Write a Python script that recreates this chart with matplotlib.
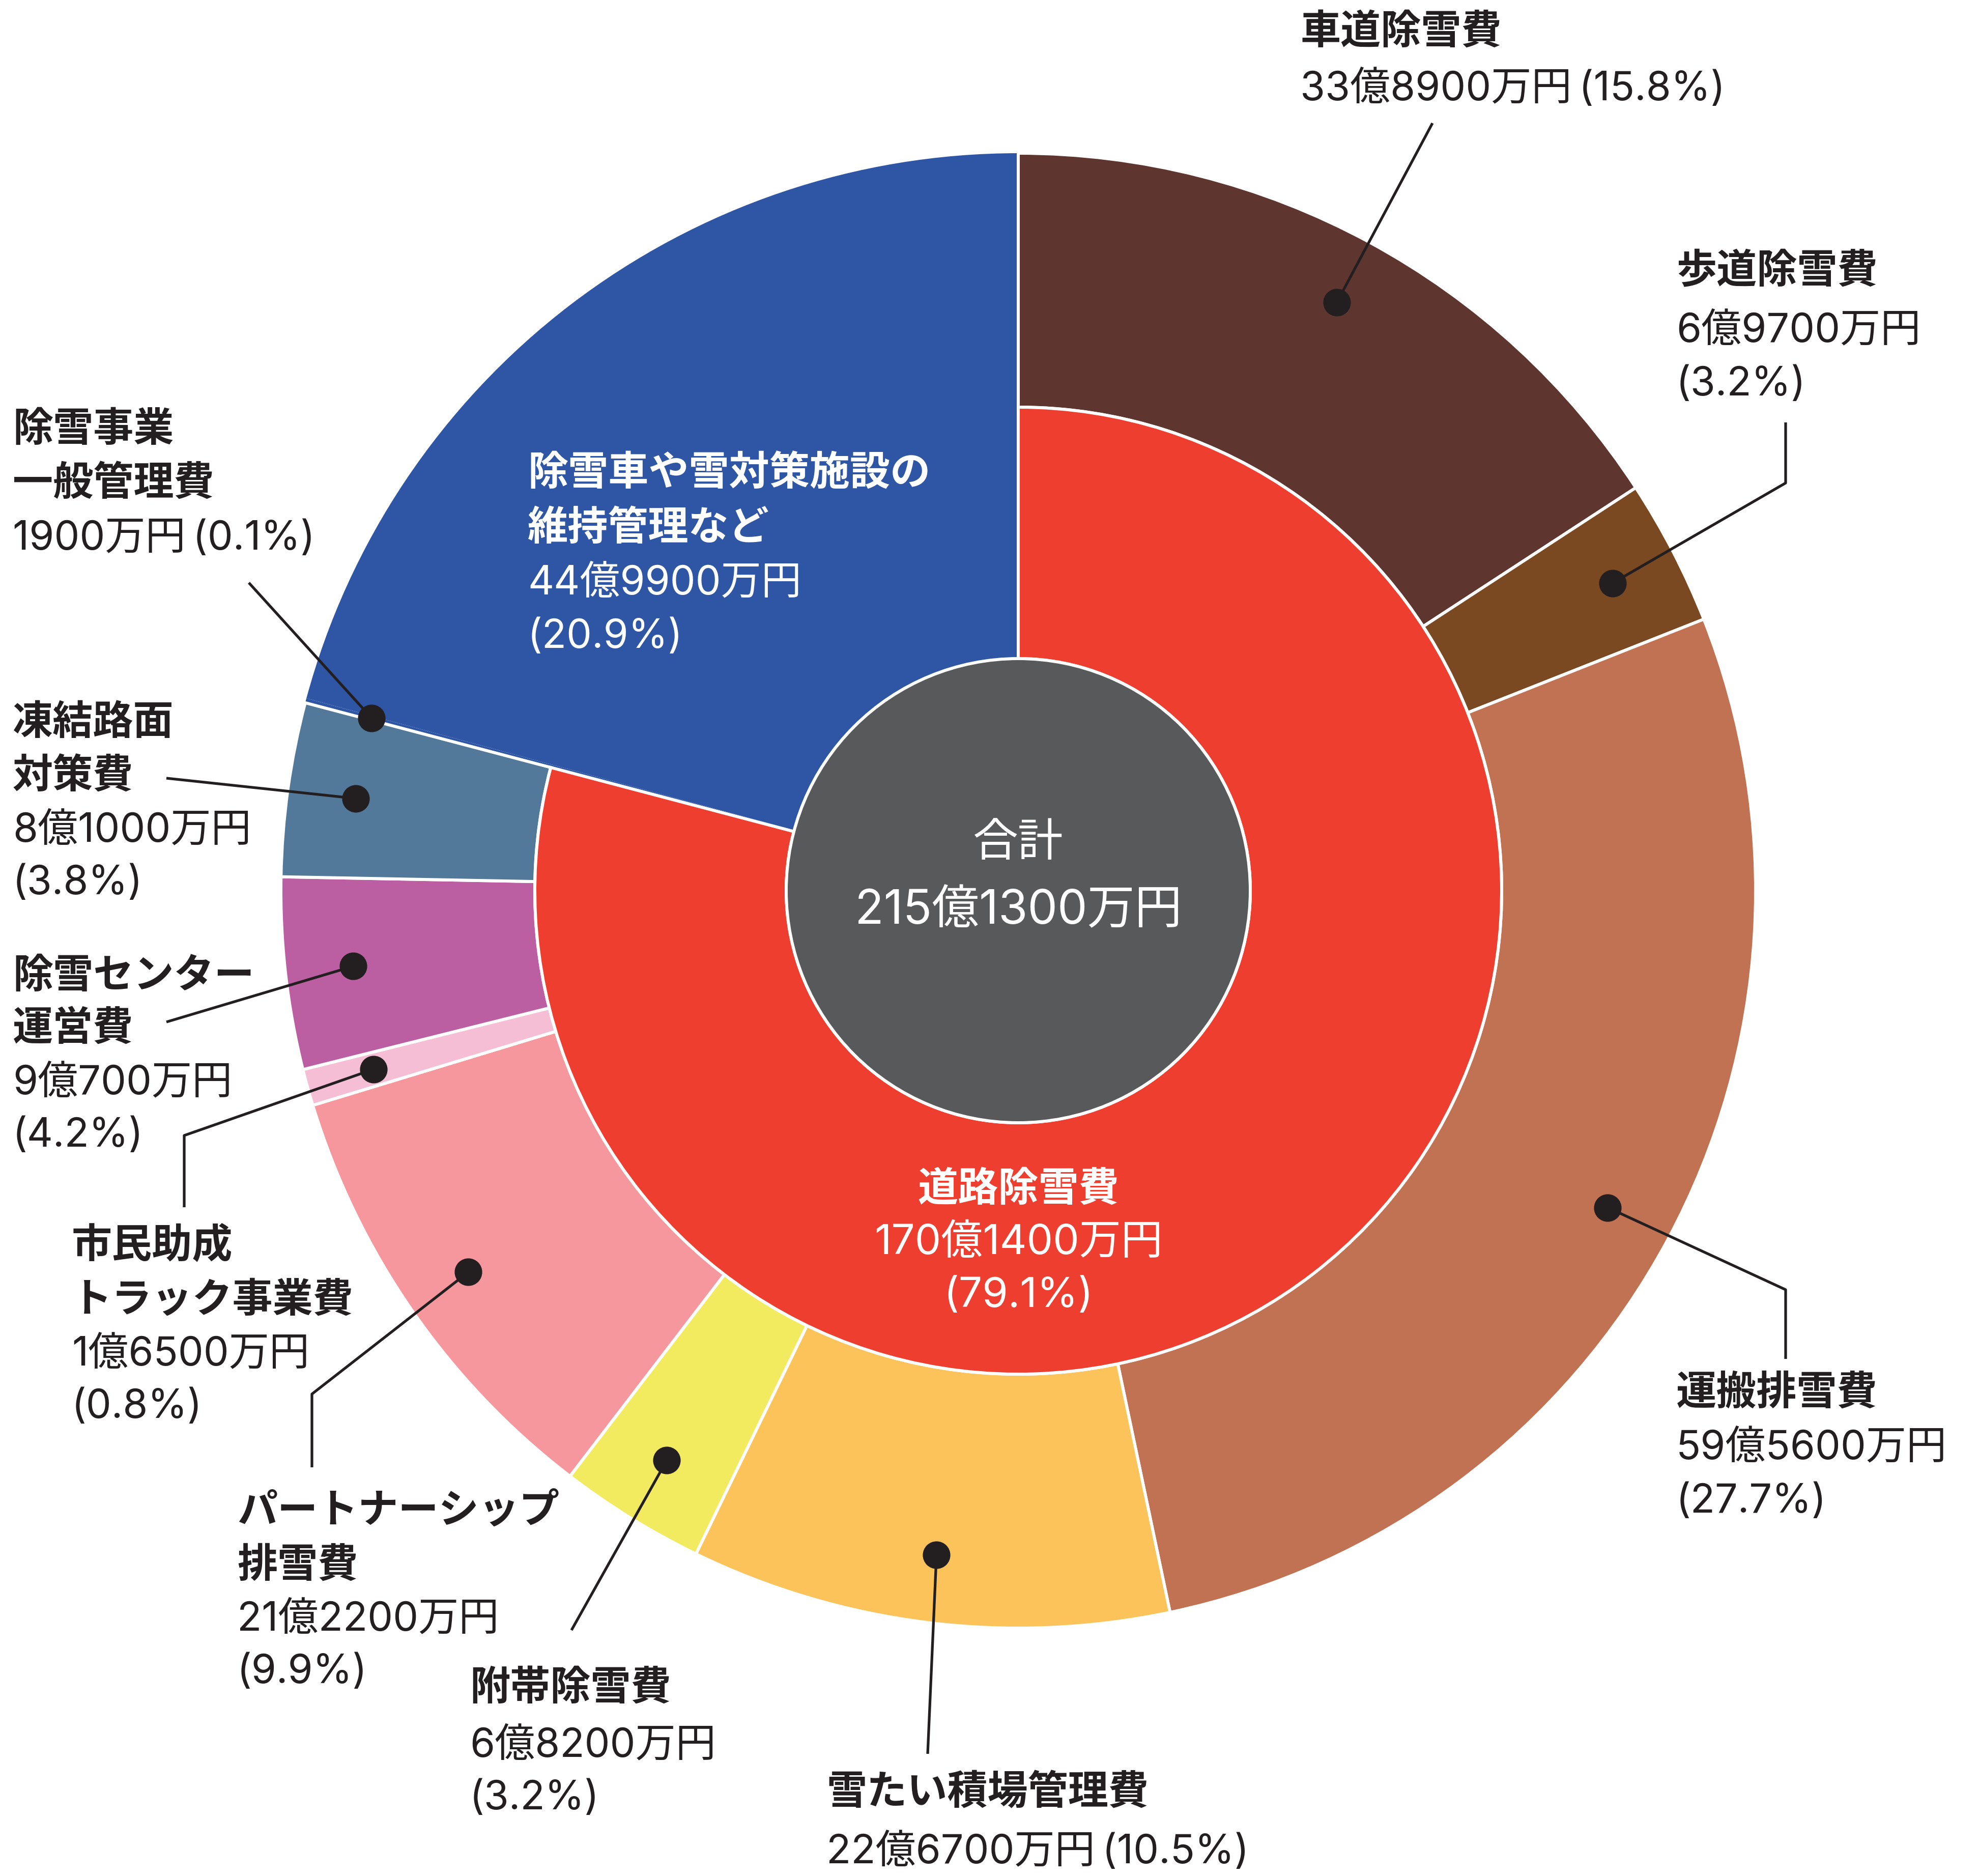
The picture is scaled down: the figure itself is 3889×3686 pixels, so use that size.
import matplotlib
matplotlib.use("Agg")
import matplotlib.pyplot as plt
from matplotlib.patches import Circle
import numpy as np

plt.rcParams['font.family'] = ['Noto Sans CJK JP', 'DejaVu Sans']
NUM_FONT = ['Inter', 'Noto Sans CJK JP', 'DejaVu Sans']

# data
outer_names = ['車道除雪費', '歩道除雪費', '運搬排雪費', '雪たい積場管理費', '附帯除雪費',
               'パートナーシップ\n排雪費', '市民助成\nトラック事業費', '除雪センター\n運営費',
               '凍結路面\n対策費', '除雪事業\n一般管理費']
outer_amounts = ['33億8900万円', '6億9700万円', '59億5600万円', '22億6700万円', '6億8200万円',
                 '21億2200万円', '1億6500万円', '9億700万円', '8億1000万円', '1900万円']
outer_pct = [15.8, 3.2, 27.7, 10.5, 3.2, 9.9, 0.8, 4.2, 3.8, 0.1]
outer_colors = ['#5E362F', '#7A4821', '#C07252', '#FCC35B', '#F2EB5F',
                '#F5979C', '#F5BED5', '#BB5FA2', '#52789A', '#2E56A4']

inner_names = ['道路除雪費', '除雪車や雪対策施設の\n維持管理など']
inner_amounts = ['170億1400万円', '44億9900万円']
inner_pct = [79.1, 20.9]
inner_colors = ['#EE3E30', '#2E56A4']

total_label = '合計'
total_amount = '215億1300万円'

W, H = 3889, 3687
CX, CY = 2001, H - 1751
R_OUT, R_MID, R_IN, R_DOT = 1449, 950, 456, 1315
EDGE = 4.3
TXT = '#231F20'
FS = 57

fig = plt.figure(figsize=(W / 100, H / 100), dpi=100)
ax = fig.add_axes([0, 0, 1, 1])

# outer ring, with the rest of the blue parent share
blue_rest = round(inner_pct[1] - outer_pct[-1], 1)
wedges, _ = ax.pie(outer_pct + [blue_rest], colors=outer_colors + [inner_colors[1]],
                   radius=R_OUT, center=(CX, CY), startangle=90, counterclock=False,
                   wedgeprops=dict(width=R_OUT - R_MID, edgecolor='white', linewidth=EDGE))
for w in wedges[-2:]:
    # blue share spans both rings
    w.set_width(R_OUT - R_IN)
    w.set_edgecolor('none')
    w.set_zorder(0.5)

iw, _ = ax.pie(inner_pct, colors=inner_colors, radius=R_MID, center=(CX, CY),
               startangle=90, counterclock=False,
               wedgeprops=dict(width=R_MID - R_IN, edgecolor='white', linewidth=EDGE))
iw[1].set_visible(False)

ax.add_patch(Circle((CX, CY), R_IN, facecolor='#58595B', edgecolor='white',
                    linewidth=EDGE, zorder=3))

# label layout (image pixel coords): x, y of each line, leader path after the dot
layout = [
    (2555, [62, 174], [(2815, 243)]),
    (3294, [533, 650, 756], [(3509, 950), (3509, 831)]),
    (3294, [2736, 2845, 2951], [(3509, 2535), (3509, 2671)]),
    (1624, [3522, 3638], [(1823, 3447)]),
    (923, [3316, 3430, 3534], [(1123, 3204)]),
    (466, [2969, 3075, 3182, 3286], [(613, 2740), (613, 2884)]),
    (141, [2448, 2554, 2661, 2765], [(362, 2232), (362, 2373)]),
    (25, [1917, 2021, 2128, 2232], [(327, 2009)]),
    (25, [1419, 1525, 1632, 1736], [(327, 1530)]),
    (25, [843, 950, 1059], [(489, 1146)]),
]
one_line = {0, 3, 9}

cum = np.cumsum([0] + outer_pct)
for i, (name, amt, pct) in enumerate(zip(outer_names, outer_amounts, outer_pct)):
    mid = (cum[i] + cum[i + 1]) / 2 / 100 * 2 * np.pi
    dx = CX + R_DOT * np.sin(mid)
    dy = CY + R_DOT * np.cos(mid)
    x0, ys, path = layout[i]
    px = [dx] + [p[0] for p in path]
    py = [dy] + [H - p[1] for p in path]
    ax.plot(px, py, color=TXT, lw=3.8, zorder=4, solid_capstyle='butt')
    ax.plot(dx, dy, 'o', ms=38, color=TXT, zorder=5)
    if i in one_line:
        lines = name.split('\n') + [f'{amt}\u2009({pct}%)']
    else:
        lines = name.split('\n') + [amt, f'({pct}%)']
    nb = len(name.split('\n'))
    for j, (s, y) in enumerate(zip(lines, ys)):
        if j < nb:
            ax.text(x0, H - y, s, fontsize=FS, color=TXT, va='center', ha='left',
                    fontweight='bold')
        else:
            ax.text(x0, H - y, s, fontsize=FS, color=TXT, va='center', ha='left',
                    family=NUM_FONT)

# inner labels
blue_lines = inner_names[1].split('\n') + [inner_amounts[1], f'({inner_pct[1]}%)']
for j, (s, y) in enumerate(zip(blue_lines, [930, 1037, 1146, 1252])):
    if j < 2:
        ax.text(1037, H - y, s, fontsize=FS, color='white', va='center', ha='left',
                fontweight='bold', zorder=6)
    else:
        ax.text(1037, H - y, s, fontsize=FS, color='white', va='center', ha='left',
                family=NUM_FONT, zorder=6)
red_lines = [inner_names[0], inner_amounts[0], f'({inner_pct[0]}%)']
for j, (s, y) in enumerate(zip(red_lines, [2336, 2443, 2547])):
    if j == 0:
        ax.text(CX, H - y, s, fontsize=FS, color='white', va='center', ha='center',
                fontweight='bold', zorder=6)
    else:
        ax.text(CX, H - y, s, fontsize=59, color='white', va='center', ha='center',
                family=NUM_FONT, zorder=6)

ax.text(CX, H - 1657, total_label, fontsize=64, color='white', va='center', ha='center', zorder=6)
ax.text(CX, H - 1791, total_amount, fontsize=67, color='white', va='center', ha='center',
        family=NUM_FONT, zorder=6)

ax.set_xlim(0, W)
ax.set_ylim(0, H)
ax.set_aspect('equal')
ax.axis('off')

fig.savefig('out.png', dpi=100, facecolor='white')
